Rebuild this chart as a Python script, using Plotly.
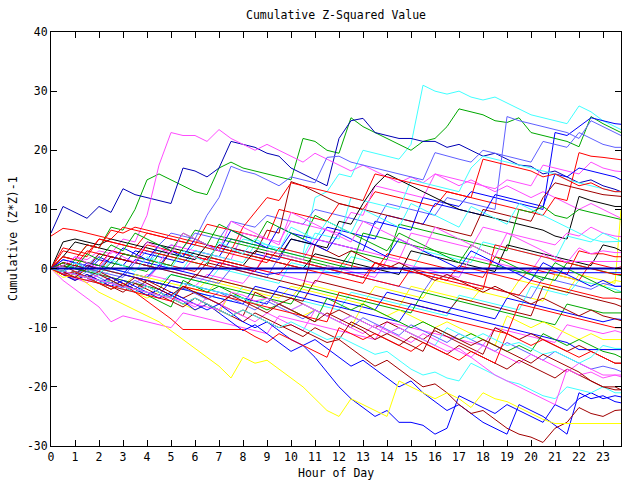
import plotly.graph_objects as go

# Hours of day at half-hour steps, last sample at 23.75
hours = [h / 2 for h in range(48)] + [23.75]
x_tick_vals = [0, 1, 2, 3, 4, 5, 6, 7, 8, 9, 10, 11, 12, 13, 14, 15, 16, 17, 18, 19, 20, 21, 22, 23]
y_tick_vals = [-30, -20, -10, 0, 10, 20, 30, 40]

line01 = [0, -0.5, 1, 0.5, 0, 2, 1.5, 1, 0.5, 3, 2.5, 2, 4, 3.5, 3, 2.5, 5, 4.5, 4, 3.5, 3, 2.5, 12, 13,
          16, 15.5, 20, 19.5, 19, 18.5, 21, 31, 30, 29.5, 30, 29, 28.5, 29, 28, 27, 26, 25.5, 25, 24.5, 27.5, 26.5, 25, 24, 23.5]
line02 = [0, 2, 1.5, 4, 3.5, 7, 6.5, 10, 15, 16, 15, 14, 13, 12.5, 17, 18, 17, 16.5, 16, 15.5, 15, 22, 21.5, 20,
          19.5, 25.5, 24, 23, 22, 21, 20, 21.5, 22, 24, 27, 26.5, 26, 25, 24.7, 25.5, 23, 22.5, 22, 21.5, 20.6, 25.7, 24.5, 23.5, 23]
line03 = [6, 10.5, 9.5, 8.5, 10.5, 9.5, 13.5, 12.5, 12, 11.5, 11, 17, 16.5, 15.5, 17, 21.5, 21, 20.5, 19.5, 19, 17, 16, 15, 14,
          22, 25, 25.4, 23, 22.5, 22, 22, 21.5, 21.5, 20.5, 21, 20, 19, 19.5, 18.5, 17.5, 17.3, 16, 16.5, 15.5, 14.5, 15, 14, 13.4, 13]
line04 = [0, -0.5, 2, 1.5, 3, 2.5, 5, 4.5, 9, 17.5, 23, 22.5, 22.5, 21.5, 23.5, 22, 21, 20, 21, 20, 19, 18, 19.5, 18.5,
          17.5, 16.5, 17.5, 16.5, 15.5, 14.5, 15.5, 14.5, 16, 15, 14, 15, 14, 13, 14, 13, 12, 13, 12, 11, 10, 11, 10, 9, 8.5]
line05 = [0, 0.5, 0, -0.5, 1.5, 1, 0.5, 3, 2.5, 2, 1.5, 1, 3, 2.5, 2, 5, 4.5, 4, 3.5, 3, 6, 5.5, 5, 4.5,
          4, 3.5, 3, 8, 7.5, 7, 6.5, 12, 11.5, 11, 10.5, 13, 12.5, 12, 11.5, 11, 10.5, 10, 23, 22.5, 24, 25.5, 25, 24.5, 24.4]
line06 = [0, 1.5, 1, 0.5, 0, 2, 1.5, 1, 3, 2.5, 4, 3.5, 6, 5.5, 5, 8, 7.5, 7, 9, 8.5, 8, 7.5, 10, 9.5,
          9, 8.5, 8, 7.5, 11, 10.5, 10, 9.5, 9, 12, 11.5, 11, 10.5, 10, 25.7, 25, 24.5, 24, 23.5, 23, 22, 25, 24, 23, 22.5]
line07 = [0, -0.5, 1, 0.5, 2.5, 2, 1.5, 1, 0.5, 4, 6, 5.5, 5, 9, 12, 17.3, 16.5, 16, 15, 14, 15.5, 15, 14.5, 18.8,
          19, 18, 17.5, 17, 16.5, 16, 15.5, 15, 19.6, 19, 18.5, 18, 20, 19.5, 19, 18.5, 18, 21.5, 21, 20.5, 23, 22, 21, 20.5, 20.5]
line08 = [0, 3, 2.5, 2, 5, 4.5, 4, 3.5, 6, 5.5, 5, 4.5, 4, 7.5, 7, 6.5, 6, 5.5, 5, 10, 9.5, 9, 8.5, 8,
          11, 10.5, 10, 13, 12.5, 12, 11.5, 11, 10.5, 13, 12.5, 12, 11.5, 11, 10.5, 10, 9.5, 9, 12, 11.5, 19.6, 19, 18.8, 18.5, 18.4]
line09 = [0, -0.5, -1, 1, 0.5, 0, 2.5, 2, 1.5, 1, 4, 3.5, 3, 2.5, 2, 1.5, 6, 5.5, 5, 4.5, 8, 7.5, 7, 6.5,
          6, 9.5, 9, 14, 13.5, 13, 12.5, 12, 16, 15.5, 15, 14.5, 14, 13.5, 15, 14.5, 14, 17.5, 17, 16.5, 16, 18, 17, 16.5, 16.4]
line10 = [0, -1, -1.5, 0.5, 0, -0.5, -1, 1.5, 1, 0.5, 3, 2.5, 2, 1.5, 4, 3.5, 3, 2.5, 2, 1.5, 5, 4.5, 4, 7,
          6.5, 6, 5.5, 5, 9, 8.5, 8, 7.5, 11, 10.5, 10, 9.5, 9, 12.5, 12, 11.5, 11, 10.5, 16, 15.5, 17, 16.5, 16, 15.5, 15]
line11 = [0, -1, -0.5, -1.5, -2, 0, -0.5, -1, -1.5, 1, 0.5, 0, 3, 2.5, 2, 1.5, 1, 4, 3.5, 3, 2.5, 2, 6, 5.5,
          5, 12, 11.5, 11, 10.5, 10, 15, 14.5, 14, 13.5, 13, 17, 19, 18.5, 18, 17.5, 17, 16.5, 16, 15, 14.5, 14, 13.5, 13, 13]
line12 = [0, 1, 0.5, 0, -0.5, 2, 1.5, 1, 0.5, 0, 3, 2.5, 2, 1.5, 4, 3.5, 3, 2.5, 6.5, 6, 14.7, 14, 13, 12,
          11, 10.5, 10, 9.5, 9, 8.5, 8, 7.5, 7, 6.5, 6, 5.5, 10, 9.5, 9, 8.5, 8, 12, 14.5, 14, 13.5, 13, 12.5, 12.3, 12.2]
line13 = [0, 2, 4.5, 4, 3.5, 3, 2.5, 2, 4.5, 4, 3.5, 3, 2.5, 2, 1.5, 1, 0.5, 3, 2.5, 2, 5, 4.5, 4, 3.5,
          8, 7.5, 11, 14, 16, 15, 14, 13, 12, 11, 10, 9.5, 9, 8.5, 8, 7.5, 7, 6.5, 5.5, 5, 12.2, 11.5, 11, 10.5, 10.5]
line14 = [0, -0.5, -1, -1.5, -2, -2.5, -1, -1.5, -2, -2.5, -3, -3.5, -4, -2, -2.5, -3, -3.5, -4, -4.5, -5, -3, -3.5, -4, -4.5,
          -5, -5.5, -6, -3, -3.5, -4, -4.5, -5, -2, -2.5, -3, -3.5, -4, -4.5, -5, -2, -2.5, -3, -3.5, -4, -1, -1.5, -2, -2.5, 10]
line15 = [0, 0.5, 0, -0.5, -1, 1, 0.5, 0, -0.5, 2.5, 2, 1.5, 1, 0.5, 5, 4.5, 4, 3.5, 3, 2.5, 2, 1.5, 1, 0.5,
          0, 3, 2.5, 2, 1.5, 7.5, 7, 6.5, 6, 5.5, 5, 4.5, 4, 3.5, 3, 10, 9.5, 10.5, 9, 8.5, 10, 9.5, 9, 8.5, 8.3]
line16 = [0, -1, -1.5, -2, 0, -0.5, -1, -1.5, -2, 0.5, 0, -0.5, 2, 1.5, 1, 0.5, 0, -0.5, 3, 2.5, 2, 1.5, 5, 4.5,
          4, 3.5, 3, 2.5, 2, 1.5, 6, 5.5, 5, 4.5, 4, 3.5, 7, 6.5, 6, 5.5, 5, 4.5, 4, 6, 5.5, 7, 6, 5.5, 5.4]
line17 = [0, -0.5, -1, -1.5, 0, -0.5, -1, -1.5, -2, -2.5, -1, -1.5, -2, -2.5, 0, -0.5, -1, -1.5, -2, -2.5, 1, 0.5, 0, -0.5,
          -1, 2, 1.5, 1, 0.5, 0, -0.5, 3, 2.5, 2, 1.5, 1, 4.5, 4, 3.5, 3, 2.5, 2, 1.5, 5.5, 5, 4.5, 6, 5, 4.6]
line18 = [0, 4.5, 5, 4.5, 4, 5, 4.5, 4, 3.5, 3, 2.5, 2, 1.5, 4, 3.5, 3, 2.5, 2, 1.5, 1, 0.5, 0, 2.5, 2,
          1.5, 1, 0.5, 0, -0.5, -1, 3, 2.5, 2, 1.5, 1, 0.5, 0, -0.5, 4, 3.5, 3, 2.5, 2, 1.5, 1, 0.5, 4, 3.5, 3]
line19 = [0, -1, -1.5, -2, -1, -1.5, -2, -2.5, -1, -1.5, -2, -2.5, -3, -1, -1.5, -2, -2.5, 0, -0.5, -1, -1.5, -2, -2.5, 0.5,
          0, -0.5, -1, -1.5, 1.5, 1, 0.5, 0, -0.5, -1, -1.5, 2, 1.5, 1, 0.5, 0, -0.5, 2.5, 1.2, 1.2, 1.2, 1.2, 1.2, 1.2, 1.2]
line20 = [5.5, 6.8, 6.5, 6, 5.5, 5, 7, 6.5, 6, 5.5, 5, 4.5, 4, 3.5, 3, 2.5, 2, 1.5, 1, 3.5, 3, 2.5, 2, 1.5,
          1, 0.5, 0, -0.5, 2.5, 2, 1.5, 1, 0.5, 0, -0.5, -1, -1.5, 2, 1.5, 1, 0.5, 0, -0.5, -1, 3, 2.5, 2.5, 2, 2]
line21 = [0, 2, 1.5, 1, 0.5, 3, 2.5, 2, 1.5, 1, 0.5, 0, -0.5, 2, 1.5, 1, 0.5, 0, -0.5, -1, 1.5, 1, 0.5, 0,
          -0.5, -1, -1.5, 1, 0.5, 0, -0.5, -1, -1.5, -2, 0.5, 0, -0.5, -1, -1.5, -2, 0, -0.5, -1, -1.5, -2, 1, 0.5, 0, 0.3]
line22 = [0, 0, 0, 0, 0, 0, 0, 0, 0, 0, 0, 0, 0, 0, 0, 0, 0, 0, 0, 0, 0, 0, 0, 0,
          0, 0, 0, 0, 0, 0, 0, 0, 0, 0, 0, 0, 0, 0, 0, 0, 0, 0, 0, 0, 0, 0, 0, 0, 0]
line23 = [0, -0.5, -1, 1, 0.5, 0, -0.5, -1, -1.5, 0.5, 0, -0.5, -1, -1.5, 1, 0.5, 0, -0.5, -1, -0.7, -0.7, -0.7, -0.7, -0.7,
          -0.7, -0.7, -0.7, -0.7, -0.7, -0.7, -0.7, -0.7, -0.7, -0.7, -0.7, -0.7, -0.7, -0.7, -0.7, -0.7, -0.7, -0.7, -0.7, -0.7, -0.7, -0.7, -0.7, -0.7, -0.7]
line24 = [0, -0.5, -1, -1.5, -2, -2.5, -3, -1, -1.5, -2, -2.5, -3, -3.5, -4, -2, -2.5, -3, -3.5, -4, -4.5, -5, -2.5, -3, -3.5,
          -4, -4.5, -5, -5.5, -6, -6.5, -3, -3.5, -4, -4.5, -5, -5.5, -3, -3.5, -4, -4.5, -5, -5.5, -1, -1.5, -2, -2.5, -3, -2, -2.2]
line25 = [0, -0.5, 0.5, 0, -0.5, -1, -1.5, 1, 0.5, 0, -0.5, -1, -1.5, -2, -2.5, 0, -0.5, -1, -1.5, 2, 1.5, 1, 0.5, 0,
          -0.5, -1, -1.5, -2, -2.5, -3, -3.5, -4, -1, -1.5, -2, -2.5, -3, -3.5, -4, -4.5, -5, -1.5, -2, -2.5, -3, -3.5, -2.5, -3, -3]
line26 = [0, -1, -1.5, -2, -2.5, -3, -3.5, -4, -2, -2.5, -3, -3.5, -4, -4.5, -5, -5.5, -3, -3.5, -4, -4.5, -5, -5.5, -6, -6.5,
          -7, -4, -4.5, -5, -5.5, -6, -6.5, -7, -7.5, -8, -4.5, -5, -5.5, -6, -6.5, -7, -3, -3.5, -4, -4.5, -2, -2.5, -3, -3.5, -3.9]
line27 = [0, 1, 0.5, 3, 2.5, 2, 1.5, 1, 4, 3.5, 3, 2.5, 2, 1.5, 1, 0.5, 0, -0.5, 2.5, 2, 1.5, 1, 0.5, 0,
          -0.5, -1, -1.5, -2, -2.5, -3, 0, -0.5, -1, -1.5, -2, -2.5, -3, -3.5, -4, -4.5, -2, -2.5, -3, -3.5, -4, -4.5, -5, -5, -5.2]
line28 = [0, -0.5, -1, 0.5, 0, -0.5, -1, -1.5, -2, -2.5, -3, -3.5, -1, -1.5, -2, -2.5, -3, -3.5, -4, -4.5, -5, -5.5, -2, -2.5,
          -3, -3.5, -4, -4.5, -5, -5.5, -6, -6.5, -7, -7.5, -5, -5.5, -6, -6.5, -7, -7.5, -8, -3, -3.5, -4, -4.5, -5, -5.5, -6, -6.4]
line29 = [0, 0.5, 0, -0.5, -1, -1.5, -2, -2.5, -3, -3.5, -1, -1.5, -2, -2.5, -3, -3.5, -4, -4.5, -5, -5.5, -6, -3, -3.5, -4,
          -4.5, -5, -5.5, -6, -6.5, -7, -7.5, -4, -4.5, -5, -5.5, -6, -6.5, -7, -7.5, -8, -8.5, -9, -9.5, -6, -6.5, -7, -7.5, -7.5, -7.5]
line30 = [0, -0.5, -1, -1.5, -2, -2.5, -3, -3.5, -4, -4.5, -2, -2.5, -3, -3.5, -4, -4.5, -5, -5.5, -6, -3, -3.5, -4, -4.5, -5,
          -5.5, -6, -6.5, -7, -4, -4.5, -5, -5.5, -6, -6.5, -7, -7.5, -8, -8.5, -5, -5.5, -6, -6.5, -7, -7.5, -8, -8.5, -9, -8.5, -8.6]
line31 = [0, -2, -3.5, -5, -6.5, -9, -8, -8.5, -9, -9.5, -10, -7.5, -8, -8.5, -9, -9.5, -10, -10.5, -11, -8, -8.5, -9, -9.5, -10,
          -10.5, -11, -11.5, -12, -9, -9.5, -10, -10.5, -11, -11.5, -12, -12.5, -13, -10, -10.5, -11, -11.5, -12, -12.5, -9.5, -10, -10.5, -11, -10.5, -10.8]
line32 = [0, -1, -0.5, -1.5, -2.5, -2, -3, -4, -5, -4, -5, -6, -7, -6, -7.5, -4, -5, -6, -5, -6, -7, -8, -7, -8,
          -9, -10, -6, -7, -8, -7, -8, -9, -10, -9, -10, -11, -12, -13, -8, -9, -10, -9, -10, -11, -12, -11, -12, -12, -12]
line33 = [0, -0.5, -1, -1.5, -2, -2.5, -1, -1.5, -2, -2.5, -3, -3.5, -4, -4.5, -5, -5.5, -6, -3, -3.5, -4, -4.5, -5, -5.5, -6,
          -6.5, -7, -7.5, -8, -8.5, -9, -6, -6.5, -7, -7.5, -8, -8.5, -9, -9.5, -10, -10.5, -11, -11.5, -12, -12.5, -13.7, -13.7, -13.7, -13.7, -13.7]
line34 = [0, -1, -0.5, -1.5, -2.5, -3.5, -2.5, -3.5, -4.5, -5.5, -6.5, -2, -3, -4, -3, -4, -5, -6, -7, -6, -7, -8, -9, -5,
          -6, -7, -6, -7, -8, -9, -10, -9, -10, -11, -12, -11, -12, -13, -14, -13, -14, -11, -12, -13, -12, -13, -14, -14.5, -15]
line35 = [0, 0.5, -0.5, -1.5, -0.5, -1.5, -2.5, -3.5, -2, -3, -4, -5, -4, -5, -6, -7, -8, -4, -5, -6, -5, -6, -7, -8,
          -7, -8, -9, -10, -9, -10, -11, -12, -10.5, -11.5, -12.5, -13.5, -14.5, -10, -11, -12, -11, -12, -13, -14, -13, -14, -15, -16, -16]
line36 = [0, -1, -1.8, -0.5, -1.5, -2.5, -3.3, -2, -3, -4, -4.8, -3.2, -4.2, -5.2, -4, -5, -6, -7, -5.5, -6.5, -7.5, -8.5, -7, -8,
          -9, -10, -8.3, -9.3, -10.3, -11.3, -9.5, -10.5, -11.5, -12.5, -11, -12, -13, -14, -12.5, -13.5, -14.5, -15.5, -14, -15, -16, -17, -16.5, -17, -17.4]
line37 = [0, -0.8, -1.6, -2.4, -1, -2, -3, -4, -2.5, -3.5, -4.5, -5.5, -6.5, -5, -6, -7, -8, -9, -7.5, -8.5, -9.5, -10.5, -7, -8,
          -9, -10, -11, -9.5, -10.5, -11.5, -12.5, -11, -12, -13, -14, -15, -13, -14, -15, -16, -14.5, -15.5, -16.5, -17.5, -16, -17, -18, -18, -18.3]
line38 = [0, -1, -2, -1, -2, -3, -4, -2.5, -3.5, -4.5, -5.5, -6.5, -5, -6, -7, -8, -9, -7.5, -8.5, -9.5, -10.5, -11.5, -10, -11,
          -12, -9, -10, -11, -12, -13, -11.5, -12.5, -13.5, -14.5, -13, -14, -15, -16, -17, -15.5, -16.5, -17.5, -18.5, -17, -18, -19, -20, -20, -20.5]
line39 = [0, -1, -0.5, -1.5, -2.5, -1.5, -2.5, -3.5, -4.5, -3.5, -4.5, -5.5, -7, -6, -7.5, -9, -10.5, -9.5, -11, -12.5, -14, -13, -15, -17.5,
          -20, -22, -23.5, -25, -24, -26, -26, -26.5, -28, -27, -21.5, -22.5, -23.5, -24.5, -23, -24, -25, -26, -23, -24, -22, -21, -22, -21.5, -21.7]
line40 = [0, -1, -2, -1, -2, -3, -2, -3, -4, -5, -4, -5, -6, -7, -6, -7.5, -9, -10, -9, -10.5, -12, -13, -12, -13.5,
          -15, -16.5, -15.5, -17, -18.5, -20, -19, -21, -22.5, -24, -23, -24.5, -26, -27, -28, -23, -24, -25, -26.5, -28, -21, -22, -21.5, -22.5, -22.7]
line41 = [0, -1, -0.5, -1.5, -2.5, -2, -3, -4, -3, -4, -5, -6, -5, -6, -7, -8, -7, -8, -9, -10, -9.5, -10.5, -11.5, -12.5,
          -12, -13.5, -15, -16.5, -15.5, -17, -18.5, -20, -19.5, -21, -23, -24.5, -24, -25.5, -27, -28, -28.5, -29.4, -27, -26, -23.5, -24.5, -25, -24, -23.9]
line42 = [0, -1.5, -1, -2.5, -4, -5, -6, -7, -8, -9, -10.5, -12, -13.5, -15, -16.5, -18.5, -15, -16, -15.5, -17, -18.5, -20, -22, -24,
          -25, -22, -23, -24, -25, -19, -20, -21, -22, -21, -22, -23.5, -21, -22, -22.5, -23.5, -24.5, -25.5, -26.2, -26.2, -26.2, -26.2, -26.2, -26.2, -26.2]
line43 = [0, -1, -0.5, -1.5, -2.5, -2, -3, -4, -3, -4, -5, -6, -5, -6, -7, -8, -7, -8, -9, -10, -9, -10, -11, -12,
          -11.5, -12.5, -13.5, -14.5, -14, -15.5, -17, -18, -17.5, -18.5, -19, -16, -17, -18, -19, -19.5, -20.5, -21.5, -22, -20, -20.5, -21, -20, -21, -21]
line44 = [0, -1, -0.5, -1.5, -2.5, -3.5, -2.5, -4, -5.5, -7, -8.5, -10.3, -10.3, -10.3, -10.3, -10.3, -10.3, -11.5, -12.5, -11, -12, -13, -14, -15,
          -10, -11, -12, -11, -12, -13, -14, -12.5, -13.5, -14.5, -15.5, -14, -15, -16, -11, -12, -13, -12, -13, -14, -15, -14, -15, -16, -16]
line45 = [0, 2, 1.5, 4, 3.5, 6.5, 6, 7, 6.5, 6, 5.5, 5, 4.5, 4, 3.5, 3, 7, 9.5, 12, 11.5, 14.5, 14, 13.5, 13,
          12.5, 12, 11.5, 16, 15.5, 15, 14.5, 14, 13.5, 13, 12.5, 12, 18.5, 18, 17.5, 17, 16.5, 15.5, 16, 15, 14, 14.5, 13.5, 13, 13]
line46 = [0, -0.5, 1.5, 1, 0.5, 0, 2.5, 2, 1.5, 1, 0.5, 3.5, 6.5, 6, 5.5, 5, 4.5, 4, 3.5, 3, 2.5, 2, 1.5, 1,
          0.5, 0, 6, 5.5, 5, 4.5, 4, 3.5, 3, 2.5, 2, 1.5, 1, 0.5, 0, -0.5, -1, -1.5, -2, 1, 0.5, 0, -0.5, -1, -1.2]
line47 = [0, 1, 0.5, 0, 2.5, 2, 1.5, 1, 0.5, 0, -0.5, -1, -1.5, 1, 0.5, 0, -0.5, -1, -1.5, -2, -2.5, -3, 4, 3,
          2, 3, 2, 1, 0, 1, 0, -1, -2, -1, -2, -3, -4, -3, -4, -5, -6, -5, -6, -7, -8, -7, -8, -8.5, -8.8]
line48 = [0, -0.5, -1, -1.5, -2, -2.5, -3, -3.5, -4, -4.5, -5, -2.5, -3, -3.5, -4, -4.5, -5, -6, -5, -6, -7, -6, -7, -8,
          -9, -8, -9, -10, -11, -10, -11, -12, -13, -10, -11, -12, -11, -12, -13, -12.5, -13.5, -14.5, -14, -15, -16, -15, -13, -13.5, -13.5]
line49 = [0, -0.5, -1, -1.5, -2, -2.5, -3, -3.5, -4, -4.5, -5, -5.5, -6, -6.5, -7, -4, -4.5, -5.5, -5, -6, -7, -6, -7, -8,
          -9, -8, -9, -10, -11, -10, -11, -12, -13, -14, -13.5, -15, -16.5, -18, -19, -20, -21, -22, -23, -17, -18, -17.5, -18.5, -18, -18]
line50 = [0, 3.5, 3, 2.5, 5, 4.5, 4, 3.5, 3, 2.5, 2, 1.5, 1, 0.5, 0, 3, 2.5, 2, 1.5, 1, 0.5, 0, -0.5, -1,
          -1.5, -2, -2.5, 1, 0.5, 0, -0.5, -1, -1.5, -2, -2.5, -3, -3.5, 4, 3.5, 3, 2.5, 2, 1.5, 1, 0.5, 0, -0.5, -1, -1]
line51 = [0, -1, -1.5, -2, -2.5, -3, -3.5, -4, -4.5, -5, -5.5, -3, -3.5, -4, -4.5, -5, -5.5, -6, -6.5, -7, -7.5, -8, -8.5, -9,
          -4, -4.5, -5, -5.5, -6, -6.5, -7, -7.5, -8, -8.5, -9, -9.5, -10, -10.5, -11, -6, -6.5, -7, -7.5, -8, -8.5, -9, -9.5, -10, -10]
line52 = [0, 1.5, 1, 0, 2, 1, 3.5, 2.5, 1.5, 4, 3, 2, 5, 4, 3, 6.5, 5.5, 4.5, 3.5, 7, 6, 5, 4, 3,
          6, 5, 4, 3, 2, 5, 4, 3, 2, 1, 0, 3, 2, 1, 0, -1, -2, 1, 0, -1, -2, -3, -2, -3, -3]
line53 = [0, 1, 0, 2.5, 1.5, 4, 3, 6, 5, 4, 3, 6, 5, 4, 7.5, 6.5, 5.5, 4.5, 8, 7, 6, 5, 9, 8,
          7, 6, 5, 4, 3, 6, 5, 4, 3, 2, 1, 4, 3, 2, 1, 0, -1, -2, 1, 0, -1, -2, -3, -4, -4]
line54 = [0, 0.5, 2, 1, 0, 3, 2, 1, 4.5, 3.5, 2.5, 6, 5, 4, 3, 8, 7, 6, 5, 4, 9.5, 8.5, 7.5, 6.5,
          5.5, 4.5, 8, 7, 6, 5, 4, 3, 7, 6, 5, 4, 3, 2, 6, 5, 4, 3, 2, 1, 3.5, 2.5, 3, 2.7, 2.7]
line55 = [0, -0.5, -1.5, 0, -1, -2, -3, -1.5, -2.5, -3.5, -4.5, -3, -4, -5, -6, -4.5, -5.5, -6.5, -7.5, -6, -7, -8, -9, -7.5,
          -8.5, -9.5, -10.5, -12, -11, -12, -13, -14, -10, -11, -12, -13, -12, -13, -14, -15, -16, -14.5, -15.5, -16.5, -17.5, -19, -20, -20.5, -20.5]
line56 = [0, -0.5, 1, 0, -1, 1.5, 0.5, -0.5, 2, 1, 0, 3, 2, 1, 4.5, 3.5, 2.5, 5, 4, 3, 7, 6, 5, 8,
          7, 6, 10, 9, 8, 7, 11, 10, 9, 8, 7, 10.5, 9.5, 8.5, 7.5, 11, 10, 9, 8, 7, 6, 5, 4.5, 4.6, 4.6]

RED = "#ff0000"
GREEN = "#00a800"
BLUE = "#0000ff"
DKBLUE = "#0000b4"
MAGENTA = "#ff4cff"
CYAN = "#40ffff"
DKRED = "#a00000"
YELLOW = "#ffff00"
BLACK = "#000000"
SLATE = "#6060ff"

series = [
    (line01, CYAN), (line02, GREEN), (line03, DKBLUE), (line04, MAGENTA), (line05, BLUE),
    (line06, SLATE), (line07, SLATE), (line08, RED), (line09, MAGENTA), (line10, BLUE),
    (line11, CYAN), (line12, DKRED), (line13, BLACK), (line14, YELLOW), (line15, GREEN),
    (line16, MAGENTA), (line17, CYAN), (line18, BLACK), (line19, MAGENTA), (line20, RED),
    (line21, RED), (line23, BLUE), (line24, YELLOW), (line25, SLATE),
    (line26, CYAN), (line27, RED), (line28, DKRED), (line29, GREEN), (line30, BLUE),
    (line31, MAGENTA), (line32, YELLOW), (line33, BLUE), (line34, GREEN), (line35, DKRED),
    (line36, SLATE), (line37, MAGENTA), (line38, DKRED), (line39, BLUE), (line40, BLUE),
    (line41, DKRED), (line42, YELLOW), (line43, CYAN), (line44, RED), (line45, RED),
    (line46, GREEN), (line47, DKRED), (line48, CYAN), (line49, MAGENTA), (line50, RED),
    (line51, RED), (line52, BLUE), (line53, GREEN), (line54, MAGENTA), (line55, DKRED),
    (line56, CYAN), (line22, DKBLUE),
]

bad = [i for i, (v, c) in enumerate(series) if len(v) != len(hours)]
assert not bad, "bad lengths: " + str([(i, len(series[i][0])) for i in bad])

FONT = "DejaVu Sans Mono"
FS = 11.5

fig = go.Figure()
for vals, col in series:
    w = 2 if vals is line22 else 1
    fig.add_trace(go.Scatter(x=hours, y=vals, mode="lines",
                             line=dict(color=col, width=w), showlegend=False,
                             hoverinfo="skip"))

axis_common = dict(showline=True, linecolor="black", linewidth=1, mirror="ticks",
                   ticks="inside", ticklen=6, tickcolor="black", showgrid=False,
                   zeroline=False, automargin=False,
                   tickfont=dict(family=FONT, size=FS, color="black"))

fig.update_layout(
    width=640, height=480,
    margin=dict(l=51, r=19, t=32, b=34),
    paper_bgcolor="white", plot_bgcolor="white",
    font=dict(family=FONT, size=FS, color="black"),
    hovermode=False,
    title=dict(text="Cumulative Z-Squared Value", x=336 / 640, xanchor="center",
               y=1 - 15 / 480, yanchor="middle", xref="container", yref="container",
               font=dict(family=FONT, size=FS, color="black")),
    xaxis=dict(range=[0, 23.75], tickmode="array", tickvals=x_tick_vals,
               ticktext=[str(v) for v in x_tick_vals], **axis_common),
    yaxis=dict(range=[-30, 40], tickmode="array", tickvals=y_tick_vals,
               ticktext=[str(v) for v in y_tick_vals], **axis_common),
    annotations=[
        dict(text="Hour of Day", x=0.5, y=-27 / 414, xref="paper", yref="paper",
             showarrow=False, xanchor="center", yanchor="middle",
             font=dict(family=FONT, size=FS, color="black")),
        dict(text="Cumulative (Z*Z)-1", x=(13 - 51) / 570, y=(446 - 239) / 414,
             xref="paper", yref="paper", showarrow=False, textangle=-90,
             xanchor="center", yanchor="middle",
             font=dict(family=FONT, size=FS, color="black")),
    ],
)

fig.write_html("out.html", config={"displayModeBar": False},
               post_script="document.body.style.margin='0px';")
